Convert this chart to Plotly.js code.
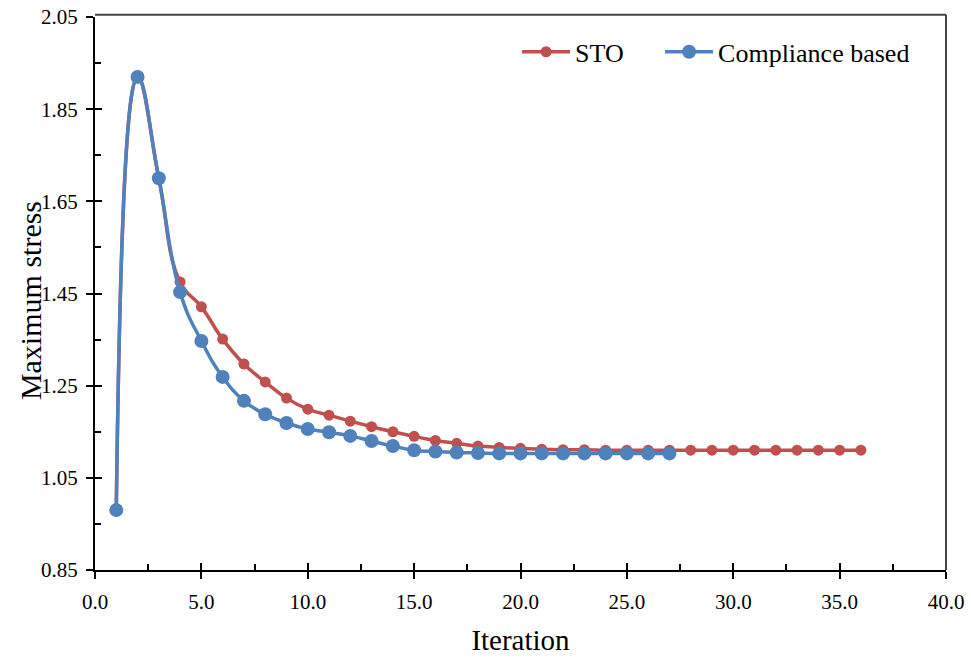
<!DOCTYPE html>
<html>
<head>
<meta charset="utf-8">
<script src="https://cdn.plot.ly/plotly-3.0.1.min.js"></script>
<style>html,body{margin:0;padding:0;background:#fff;}#chart{width:971px;height:659px;}</style>
</head>
<body>
<div id="chart"></div>
<script>
const stoIter = [1,2,3,4,5,6,7,8,9,10,11,12,13,14,15,16,17,18,19,20,21,22,23,24,25,26,27,28,29,30,31,32,33,34,35,36];
const stoStress = [0.98,1.92,1.70,1.475,1.421,1.351,1.297,1.258,1.223,1.199,1.186,1.173,1.161,1.150,1.140,1.131,1.125,1.119,1.116,1.114,1.112,1.111,1.111,1.110,1.110,1.110,1.110,1.110,1.110,1.110,1.110,1.110,1.110,1.110,1.110,1.110];
const compIter = [1,2,3,4,5,6,7,8,9,10,11,12,13,14,15,16,17,18,19,20,21,22,23,24,25,26,27];
const compStress = [0.98,1.92,1.70,1.453,1.347,1.269,1.217,1.188,1.169,1.156,1.149,1.141,1.130,1.119,1.110,1.107,1.105,1.104,1.103,1.103,1.103,1.103,1.103,1.103,1.103,1.103,1.103];
const seriesNames = ["STO", "Compliance based"];
const xTitle = "Iteration";
const yTitle = "Maximum stress";

const serif = "Liberation Serif";
const red = "#C0504D", blue = "#4F81BD";

const traces = [
  {x: stoIter, y: stoStress, name: seriesNames[0], type: "scatter", mode: "lines+markers", legend: "legend",
   line: {color: red, width: 3.5, shape: "spline", smoothing: 1.3}, marker: {color: red, size: 11}},
  {x: compIter, y: compStress, name: seriesNames[1], type: "scatter", mode: "lines+markers", legend: "legend2",
   line: {color: blue, width: 3.5, shape: "spline", smoothing: 1.3}, marker: {color: blue, size: 14}},
  {x: [0], y: [0.85], xaxis: "x2", yaxis: "y2", mode: "markers", marker: {opacity: 0}, showlegend: false, hoverinfo: "skip"}
];

const legendBase = {orientation: "h", y: 0.937, xanchor: "left", yanchor: "middle",
  font: {family: serif, size: 26, color: "#000"}, bgcolor: "rgba(0,0,0,0)", itemwidth: 48};

const layout = {
  width: 971, height: 659,
  margin: {l: 95, r: 25, t: 17, b: 89},
  paper_bgcolor: "#fff", plot_bgcolor: "#fff",
  font: {family: serif, color: "#000"},
  showlegend: true,
  legend: Object.assign({}, legendBase, {x: 0.496}),
  legend2: Object.assign({}, legendBase, {x: 0.664}),
  xaxis: {range: [0, 40], tick0: 0, dtick: 5, tickformat: ".1f", showgrid: false, zeroline: false,
          showline: true, linecolor: "#000", linewidth: 2, ticks: "outside", ticklen: 7, tickwidth: 2, tickcolor: "#000",
          tickfont: {family: serif, size: 21}, ticklabelstandoff: 5,
          title: {text: xTitle, font: {family: serif, size: 29}, standoff: 16}},
  yaxis: {range: [0.85, 2.05], tick0: 0.85, dtick: 0.2, tickformat: ".2f", showgrid: false, zeroline: false,
          showline: true, linecolor: "#000", linewidth: 2, ticks: "outside", ticklen: 7, tickwidth: 2, tickcolor: "#000",
          tickfont: {family: serif, size: 21}, ticklabelstandoff: 4},
  xaxis2: {overlaying: "x", matches: "x", anchor: "y2", range: [0, 40], tick0: 0, dtick: 5, showgrid: false, zeroline: false,
           showline: false, showticklabels: false, ticks: "inside", ticklen: 7, tickwidth: 2, tickcolor: "#000",
           minor: {ticks: "inside", ticklen: 6, tickwidth: 2, tickcolor: "#000", dtick: 2.5, tick0: 0, showgrid: false}},
  yaxis2: {overlaying: "y", matches: "y", anchor: "x2", range: [0.85, 2.05], tick0: 0.85, dtick: 0.2, showgrid: false, zeroline: false,
           showline: false, showticklabels: false, ticks: "inside", ticklen: 7, tickwidth: 2, tickcolor: "#000",
           minor: {ticks: "inside", ticklen: 6, tickwidth: 2, tickcolor: "#000", dtick: 0.1, tick0: 0.85, showgrid: false}},
  annotations: [
    {text: yTitle, xref: "paper", yref: "paper", x: -0.0764, y: 0.488, xanchor: "center", yanchor: "middle",
     textangle: -90, showarrow: false, font: {family: serif, size: 30, color: "#000"}}
  ],
  shapes: [
    {type: "line", xref: "paper", yref: "paper", x0: 0, x1: 1, y0: 1.004, y1: 1.004, line: {color: "#444", width: 2}},
    {type: "line", xref: "paper", yref: "paper", x0: 1, x1: 1, y0: 0, y1: 1.004, line: {color: "#444", width: 2}}
  ]
};

Plotly.newPlot("chart", traces, layout, {displayModeBar: false, staticPlot: true});
</script>
</body>
</html>
